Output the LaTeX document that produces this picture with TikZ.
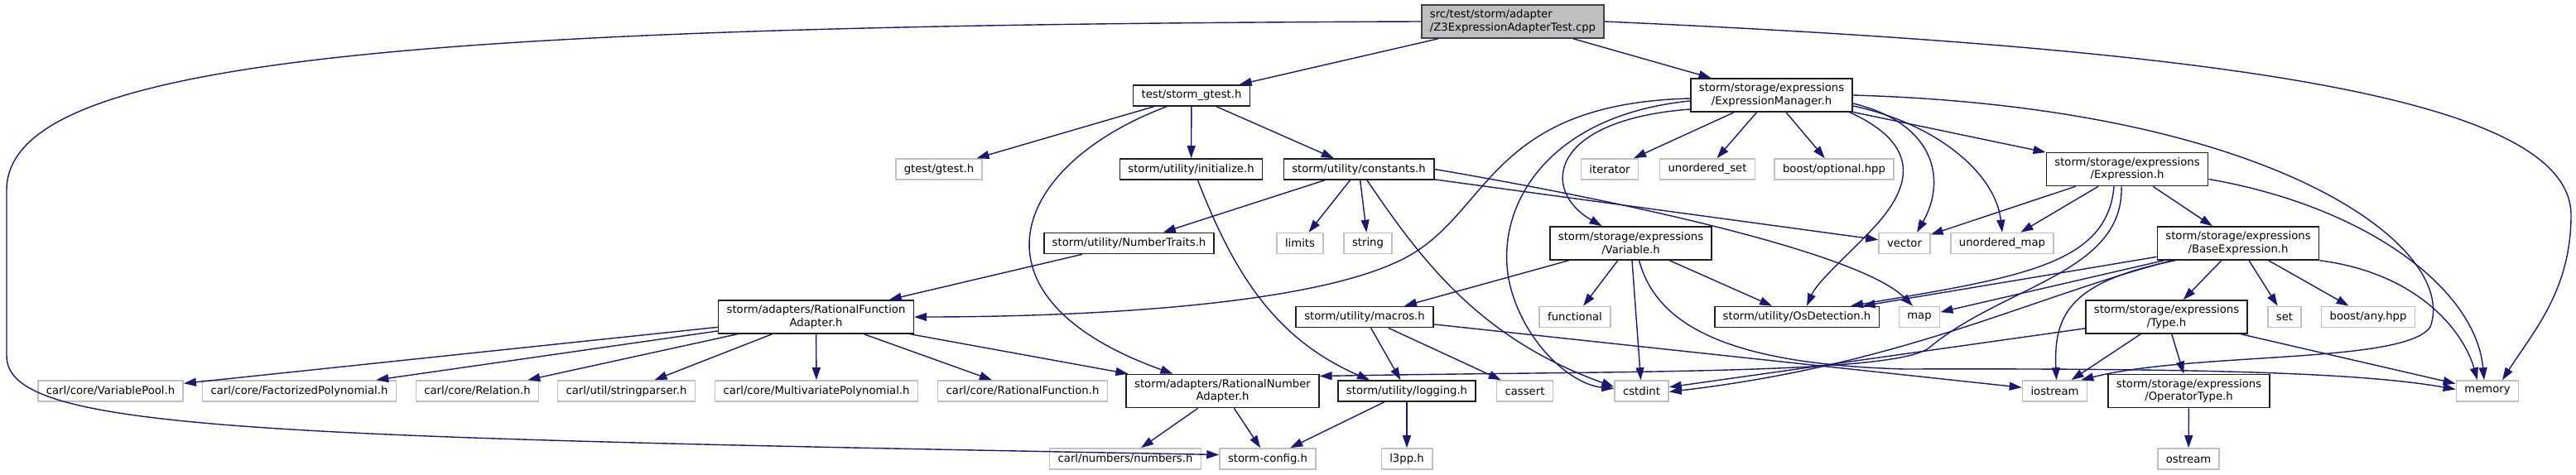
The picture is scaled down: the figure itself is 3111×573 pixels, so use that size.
\documentclass[tikz,border=0pt]{standalone}
\usepackage{fontspec}
\setmainfont{DejaVu Sans}
\usetikzlibrary{arrows.meta}
\definecolor{linkc}{HTML}{191970}
\definecolor{framec}{HTML}{202020}
\definecolor{extc}{HTML}{BFBFBF}
\tikzset{>={Triangle[length=15pt,width=10pt]},
  every node/.style={font=\fontsize{13.2}{15.4}\selectfont},
  hdr/.style={draw=framec,line width=1.6pt,fill=white,inner xsep=10pt,
    inner ysep=2pt,minimum height=25pt,align=center},
  sys/.style={hdr,draw=extc},
  twoline/.style={hdr,minimum height=40pt},
  rootbox/.style={twoline,draw=framec!85,fill=extc,align=left},
  dep/.style={->,draw=linkc,line width=1.4pt}}

\begin{document}
\begin{tikzpicture}[x=1pt,y=-1pt]
\useasboundingbox (0,0) rectangle (3111,573);
% files
\node[rootbox] (src) at (1827,26) {src/test/storm/adapter\\/Z3ExpressionAdapterTest.cpp};
\node[hdr] (sgt) at (1439,115.5) {test/storm\_gtest.h};
\node[twoline] (em) at (2139.5,115) {storm/storage/expressions\\/ExpressionManager.h};
\node[sys] (gt) at (1134,204.5) {gtest/gtest.h};
\node[hdr] (init) at (1438.5,204.5) {storm/utility/initialize.h};
\node[hdr] (const) at (1641,204.5) {storm/utility/constants.h};
\node[sys] (iter) at (1944,204.5) {iterator};
\node[sys] (uset) at (2062,204.5) {unordered\_set};
\node[sys] (opt) at (2215,204.5) {boost/optional.hpp};
\node[twoline] (expr) at (2569,204.5) {storm/storage/expressions\\/Expression.h};
\node[hdr] (ntr) at (1363.5,294) {storm/utility/NumberTraits.h};
\node[sys] (lim) at (1570,294) {limits};
\node[sys] (str) at (1652,294) {string};
\node[twoline] (var) at (1969.5,294) {storm/storage/expressions\\/Variable.h};
\node[sys] (vec) at (2300,294) {vector};
\node[sys] (umap) at (2418,294) {unordered\_map};
\node[twoline] (base) at (2703,294) {storm/storage/expressions\\/BaseExpression.h};
\node[twoline] (rfa) at (985.5,383) {storm/adapters/RationalFunction\\Adapter.h};
\node[hdr] (mac) at (1648,383) {storm/utility/macros.h};
\node[sys] (func) at (1902,383) {functional};
\node[hdr] (os) at (2170,383) {storm/utility/OsDetection.h};
\node[sys] (map) at (2318,383) {map};
\node[twoline] (type) at (2616.5,383) {storm/storage/expressions\\/Type.h};
\node[sys] (set) at (2759,383) {set};
\node[sys] (any) at (2860,383) {boost/any.hpp};
\node[sys] (vp) at (133.5,472.5) {carl/core/VariablePool.h};
\node[sys] (fp) at (361.5,472.5) {carl/core/FactorizedPolynomial.h};
\node[sys] (rel) at (576.5,472.5) {carl/core/Relation.h};
\node[sys] (sp) at (756.5,472.5) {carl/util/stringparser.h};
\node[sys] (mp) at (986,472.5) {carl/core/MultivariatePolynomial.h};
\node[sys] (rf) at (1235,472.5) {carl/core/RationalFunction.h};
\node[twoline] (rna) at (1476.5,472.5) {storm/adapters/RationalNumber\\Adapter.h};
\node[hdr] (log) at (1699,472.5) {storm/utility/logging.h};
\node[sys] (cas) at (1841.5,472.5) {cassert};
\node[sys] (cint) at (1982.5,472.5) {cstdint};
\node[sys] (ios) at (2481.5,472.5) {iostream};
\node[twoline] (opty) at (2643.5,472.5) {storm/storage/expressions\\/OperatorType.h};
\node[sys] (mem) at (3004,472.5) {memory};
\node[sys] (num) at (1359,554.5) {carl/numbers/numbers.h};
\node[sys] (cfg) at (1531,554.5) {storm-config.h};
\node[sys] (l3) at (1699,554.5) {l3pp.h};
\node[sys] (ostr) at (2643,554.5) {ostream};
% includes of the test file
\draw[dep] (src)--(sgt);
\draw[dep] (src)--(em);
\draw[dep] (src.west) .. controls (500,30) and (8,70) .. (8,230) -- (8,430) .. controls (8,520) and (300,528) .. ([yshift=5pt]cfg.west);
\draw[dep] (src.east) .. controls (2700,60) and (3105,120) .. (3105,260) .. controls (3105,350) and (3060,400) .. ([xshift=18pt]mem.north);
% storm_gtest
\draw[dep] (sgt)--(gt);
\draw[dep] (sgt)--(init);
\draw[dep] (sgt)--(const);
\draw[dep] ([xshift=-30pt]sgt.south) .. controls (1220,200) and (1160,360) .. ([xshift=-60pt]rna.north);
% utility
\draw[dep] ([xshift=8pt]init.south) .. controls (1490,330) and (1540,410) .. ([xshift=-45pt]log.north);
\draw[dep] (const)--(ntr);
\draw[dep] (const)--(lim);
\draw[dep] (const)--(str);
\draw[dep] (const)--(vec);
\draw[dep] (const.east) .. controls (2000,250) and (2250,310) .. ([xshift=-8pt]map.north);
\draw[dep] ([xshift=10pt]const.south) .. controls (1720,320) and (1790,410) .. ([yshift=5pt]cint.west);
\draw[dep] (ntr)--(rfa);
% ExpressionManager
\draw[dep] ([yshift=-4pt]em.west) .. controls (1800,125) and (1800,255) .. (1700,310) .. controls (1580,376) and (1250,383) .. (rfa.east);
\draw[dep] ([yshift=-7pt]em.west) .. controls (1860,140) and (1800,260) .. (1825,350) .. controls (1845,420) and (1900,465) .. ([yshift=3pt]cint.west);
\draw[dep] ([yshift=-17pt]em.west) .. controls (1870,145) and (1860,230) .. ([xshift=-35pt]var.north);
\draw[dep] (em)--(iter);
\draw[dep] (em)--(uset);
\draw[dep] (em)--(opt);
\draw[dep] (em)--(expr);
\draw[dep] ([yshift=-10pt]em.east) .. controls (2340,150) and (2350,220) .. ([xshift=15pt]vec.north);
\draw[dep] ([yshift=-13pt]em.east) .. controls (2340,150) and (2410,210) .. (umap.north);
\draw[dep] ([xshift=-4pt]em.south east) .. controls (2320,175) and (2310,225) .. (2262,276) .. controls (2230,310) and (2195,340) .. ([xshift=12pt]os.north);
\draw[dep] (em.east) .. controls (2750,130) and (2970,300) .. (2935,395) .. controls (2905,440) and (2650,425) .. ([xshift=-8pt]ios.north east);
% Expression
\draw[dep] (expr)--(vec);
\draw[dep] (expr)--(umap);
\draw[dep] (expr)--(base);
\draw[dep] ([xshift=-16pt]expr.south) .. controls (2545,320) and (2440,335) .. ([xshift=-35pt]os.north east);
\draw[dep] ([xshift=-7pt]expr.south) .. controls (2565,330) and (2420,345) .. (2330,420) .. controls (2290,453) and (1950,448) .. ([yshift=18pt]rna.east);
\draw[dep] ([yshift=-12pt]expr.east) .. controls (2860,250) and (2990,350) .. ([xshift=-4pt]mem.north);
% Variable
\draw[dep] (var)--(mac);
\draw[dep] (var)--(func);
\draw[dep] (var)--(cint);
\draw[dep] (var)--(os);
\draw[dep] ([xshift=10pt]var.south) .. controls (2000,390) and (2080,440) .. (2300,446) .. controls (2650,445) and (2850,450) .. ([yshift=2pt]mem.west);
% BaseExpression
\draw[dep] (base)--(type);
\draw[dep] (base)--(set);
\draw[dep] (base)--(any);
\draw[dep] (base)--(os);
\draw[dep] (base)--(map);
\draw[dep] ([xshift=-80pt]base.south) .. controls (2450,360) and (2300,440) .. ([yshift=-1pt]cint.east);
\draw[dep] ([xshift=-76pt]base.south) .. controls (2500,340) and (2480,380) .. ([xshift=2pt]ios.north);
\draw[dep] (base.south east) .. controls (2920,330) and (2975,400) .. ([xshift=-12pt]mem.north);
% Type
\draw[dep] (type)--(ios);
\draw[dep] (type)--(opty);
\draw[dep] (type)--(mem);
\draw[dep] (type)--(cint);
\draw[dep] (opty)--(ostr);
% macros, logging
\draw[dep] (mac)--(log);
\draw[dep] (mac)--(cas);
\draw[dep] (mac)--(ios);
\draw[dep] (log)--(cfg);
\draw[dep] (log)--(l3);
% adapters
\draw[dep] (rfa)--(vp);
\draw[dep] (rfa)--(fp);
\draw[dep] (rfa)--(rel);
\draw[dep] (rfa)--(sp);
\draw[dep] (rfa)--(mp);
\draw[dep] (rfa)--(rf);
\draw[dep] (rfa)--(rna);
\draw[dep] (rna)--(num);
\draw[dep] (rna)--(cfg);
\end{tikzpicture}
\end{document}
